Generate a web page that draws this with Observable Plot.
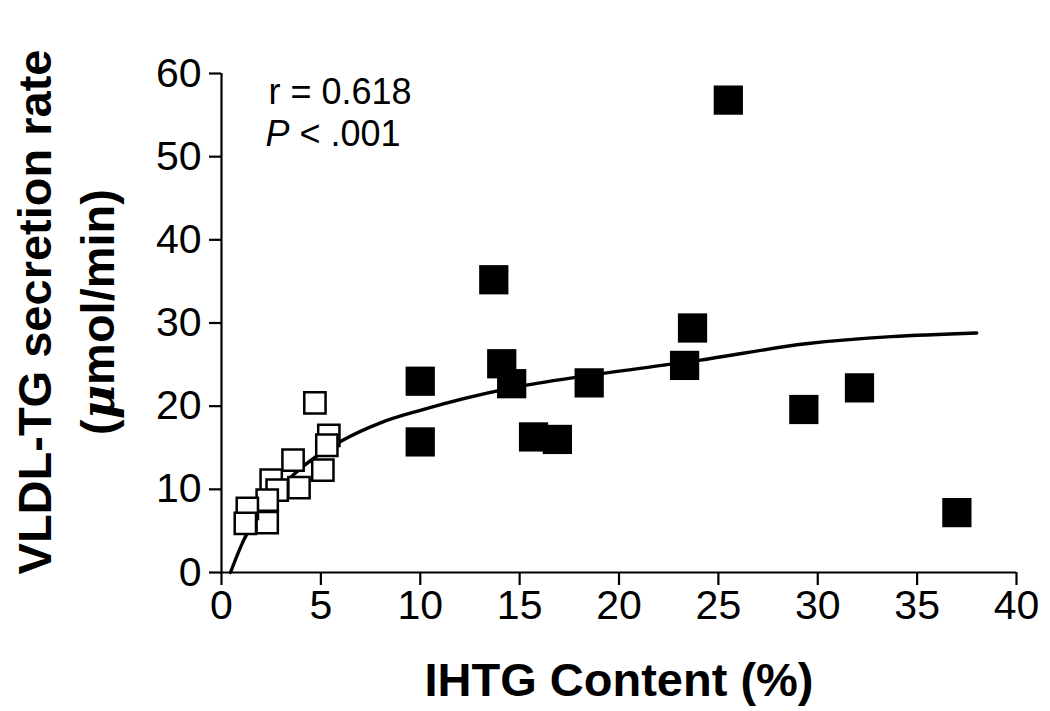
<!DOCTYPE html>
<html>
<head>
<meta charset="utf-8">
<script src="https://cdn.jsdelivr.net/npm/d3@7"></script>
<script src="https://cdn.jsdelivr.net/npm/@observablehq/plot@0.6"></script>
<style>
  html, body { margin: 0; padding: 0; background: #fff; }
</style>
</head>
<body>
<div id="chart"></div>
<script>
// Lean subjects (open squares)
const openX = [4.7, 5.4, 5.3, 5.1, 3.6, 3.9, 2.5, 2.8, 2.3, 2.3, 1.3, 1.2];
const openY = [20.4, 16.5, 15.3, 12.3, 13.5, 10.2, 11.1, 9.9, 8.7, 6.0, 7.7, 5.9];
// Subjects with fatty liver (filled squares)
const filledX = [25.5, 13.7, 23.7, 14.1, 23.3, 10.0, 14.6, 18.5, 32.1, 29.3, 10.0, 15.7, 16.9, 37.0];
const filledY = [56.8, 35.2, 29.4, 25.1, 24.9, 23.0, 22.7, 22.8, 22.2, 19.6, 15.7, 16.3, 16.0, 7.2];
// Fitted curve
const curveX = [0.45, 1.1, 2, 3.5, 6.1, 8, 10, 14.6, 18.5, 24, 29.4, 38];
const curveY = [0, 3.8, 7.5, 11.5, 15.9, 18.0, 19.5, 22.2, 23.7, 25.5, 27.5, 28.8];
// Tick labels
const xTicks = [0, 5, 10, 15, 20, 25, 30, 35, 40];
const yTicks = [0, 10, 20, 30, 40, 50, 60];
const xTitle = "IHTG Content (%)";
const yTitle1 = "VLDL-TG secretion rate";
const yTitle2 = "(μmol/min)";
const statR = "r = 0.618";
const statP = "P < .001";

const openData = openX.map((x, i) => ({x, y: openY[i]}));
const filledData = filledX.map((x, i) => ({x, y: filledY[i]}));
const curveData = curveX.map((x, i) => ({x, y: curveY[i]}));

const chart = Plot.plot({
  width: 1050,
  height: 711,
  marginLeft: 221,
  marginRight: 34,
  marginTop: 73,
  marginBottom: 139,
  style: {fontFamily: "'Liberation Sans', Arial, Helvetica, sans-serif", background: "white", color: "black", overflow: "visible"},
  x: {domain: [0, 40]},
  y: {domain: [0, 60]},
  marks: [
    Plot.axisX({ticks: xTicks, tickSize: 13, tickPadding: 4, fontSize: 41, label: null, strokeWidth: 2.2}),
    Plot.axisY({ticks: yTicks, tickSize: 12, tickPadding: 8, fontSize: 41, label: null, strokeWidth: 2.2}),
    Plot.ruleX([0], {stroke: "black", strokeWidth: 2.2}),
    Plot.ruleY([0], {stroke: "black", strokeWidth: 2.2}),
    Plot.line(curveData, {x: "x", y: "y", curve: "monotone-x", stroke: "black", strokeWidth: 3.4}),
    Plot.dot(openData, {x: "x", y: "y", symbol: "square", r: 12, fill: "white", stroke: "black", strokeWidth: 2.5}),
    Plot.dot(filledData, {x: "x", y: "y", symbol: "square", r: 16.5, fill: "black", stroke: "none"}),
    Plot.text([statR], {frameAnchor: "top-left", text: d => d, dx: 47, dy: 30, lineAnchor: "bottom", textAnchor: "start", fontSize: 36, fill: "black"}),
    Plot.text([statP], {frameAnchor: "top-left", text: d => d, dx: 44, dy: 72, lineAnchor: "bottom", textAnchor: "start", fontSize: 36, fill: "black", className: "stat-p"}),
    Plot.text([xTitle], {frameAnchor: "bottom", text: d => d, dy: 108, lineAnchor: "middle", textAnchor: "middle", fontSize: 47, fontWeight: "bold", fill: "black"}),
    Plot.text([yTitle1], {frameAnchor: "left", text: d => d, dx: -186, dy: -11, rotate: -90, lineAnchor: "middle", textAnchor: "middle", fontSize: 47, fontWeight: "bold", fill: "black"}),
    Plot.text([yTitle2], {frameAnchor: "left", text: d => d, dx: -123, dy: -11, rotate: -90, lineAnchor: "middle", textAnchor: "middle", fontSize: 47, fontWeight: "bold", fill: "black", className: "y-unit"})
  ]
});

// Italic letters via tspans
d3.select(chart).selectAll(".stat-p text").each(function() {
  const t = d3.select(this);
  const s = t.text();
  t.text(null);
  t.append("tspan").attr("font-style", "italic").text(s.slice(0, 1));
  t.append("tspan").text(s.slice(1));
});
d3.select(chart).selectAll(".y-unit text").each(function() {
  const t = d3.select(this);
  const s = t.text();
  t.text(null);
  t.append("tspan").text(s.slice(0, 1));
  t.append("tspan").attr("font-style", "italic").attr("font-weight", "bold").attr("font-family", "'DejaVu Serif', 'Liberation Serif', serif").text(s.slice(1, 2));
  t.append("tspan").text(s.slice(2));
});

document.getElementById("chart").appendChild(chart);
</script>
</body>
</html>
